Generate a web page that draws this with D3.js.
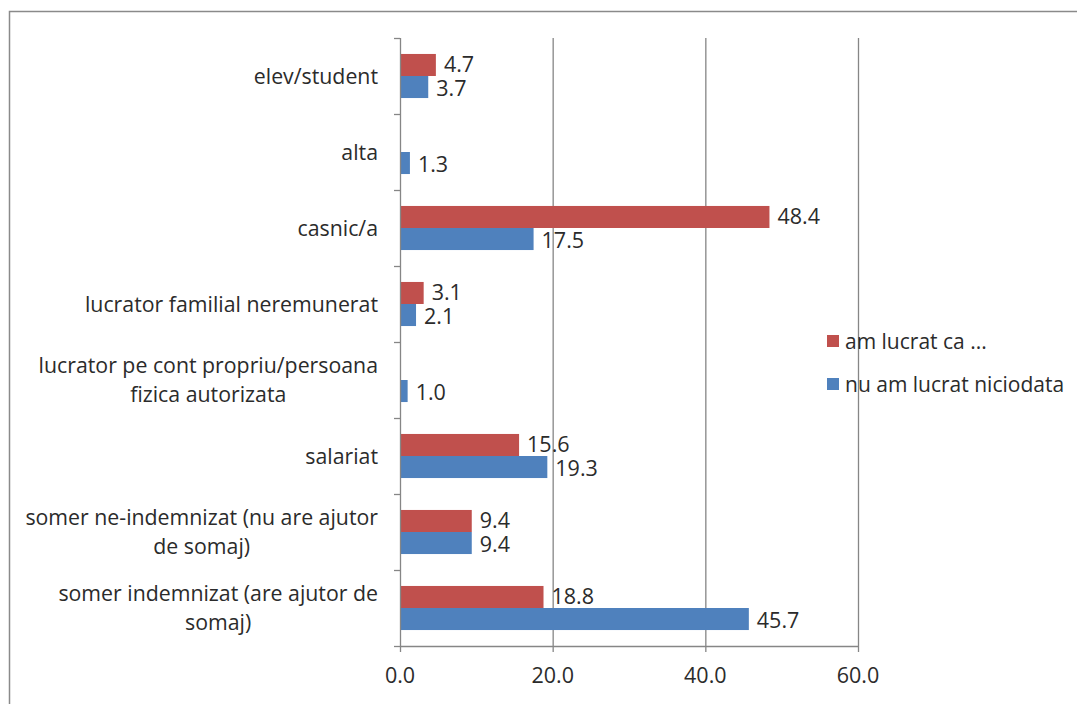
<!DOCTYPE html>
<html><head><meta charset="utf-8">
<script src="https://cdn.jsdelivr.net/npm/d3@7"></script>
<style>
html,body{margin:0;padding:0;background:#fff;}
svg{display:block;}
text{font-family:"Open Sans",sans-serif;fill:#2b2b2b;}
</style></head>
<body>
<svg id="c" width="1077" height="704"></svg>
<script>
const categories = [
  "elev/student",
  "alta",
  "casnic/a",
  "lucrator familial neremunerat",
  "lucrator pe cont propriu/persoana\nfizica autorizata",
  "salariat",
  "somer ne-indemnizat (nu are ajutor\nde somaj)",
  "somer indemnizat (are ajutor de\nsomaj)"
];
const seriesNames = ["am lucrat ca ...", "nu am lucrat niciodata"];
const amLucrat = [4.7, null, 48.4, 3.1, null, 15.6, 9.4, 18.8];
const nuAmLucrat = [3.7, 1.3, 17.5, 2.1, 1.0, 19.3, 9.4, 45.7];
const xTicks = [0, 20, 40, 60];
const colors = ["#C0504D", "#4F81BD"];

(function () {
const svg = d3.select("#c");
const pL = 400, pR = 858, pT = 38, pB = 646;

// outer frame
svg.append("rect").attr("x", 9.5).attr("y", 11.5).attr("width", 1100).attr("height", 800)
  .attr("fill", "none").attr("stroke", "#8a8a8a").attr("stroke-width", 1.5);

const x = d3.scaleLinear().domain([0, 60]).range([pL, pR]);
const y = d3.scaleBand().domain(categories).range([pT, pB]).paddingInner(0.42).paddingOuter(0.21);
const y0 = d3.scaleBand().domain(categories).range([pT, pB]);
const sub = d3.scaleBand().domain([0, 1]).range([0, y.bandwidth()]);

// gridlines
svg.append("g").selectAll("line").data(xTicks.slice(1)).join("line")
  .attr("x1", d => x(d) + 0.5).attr("x2", d => x(d) + 0.5)
  .attr("y1", pT).attr("y2", pB)
  .attr("stroke", "#868686").attr("stroke-width", 1.3);

// bars
const series = [amLucrat, nuAmLucrat];
series.forEach((vals, si) => {
  const g = svg.append("g");
  const data = categories.map((c, i) => ({c, v: vals[i]})).filter(d => d.v != null);
  g.selectAll("rect").data(data).join("rect")
    .attr("x", x(0)).attr("y", d => y(d.c) + sub(si))
    .attr("width", d => x(d.v) - x(0)).attr("height", sub.bandwidth())
    .attr("fill", colors[si]);
  g.selectAll("text").data(data).join("text")
    .attr("x", d => x(d.v) + 8).attr("y", d => y(d.c) + sub(si) + sub.bandwidth() / 2 + (si === 0 ? -1 : 1))
    .attr("dy", "0.36em").attr("font-size", 21.5).text(d => d.v.toFixed(1));
});

// y axis
const yAxisG = svg.append("g");
yAxisG.append("line").attr("x1", pL + 0.5).attr("x2", pL + 0.5).attr("y1", pT).attr("y2", pB)
  .attr("stroke", "#868686").attr("stroke-width", 1.3);
const yTickPos = categories.map(c => y0(c)).concat([pB]);
yAxisG.selectAll("line.t").data(yTickPos).join("line").attr("class", "t")
  .attr("x1", pL - 6).attr("x2", pL).attr("y1", d => d + 0.5).attr("y2", d => d + 0.5)
  .attr("stroke", "#868686").attr("stroke-width", 1.3);

// category labels
categories.forEach(c => {
  const lines = c.split("\n");
  const cy = y0(c) + y0.bandwidth() / 2;
  const lh = 29;
  const t = svg.append("text").attr("font-size", 21.3).attr("text-anchor", "middle");
  lines.forEach((ln, i) => {
    t.append("tspan").attr("y", cy + (i - (lines.length - 1) / 2) * lh).attr("dy", "0.36em").text(ln);
  });
  const tspans = t.selectAll("tspan").nodes();
  const widths = tspans.map(n => n.getComputedTextLength());
  const w = d3.max(widths);
  tspans.forEach(n => d3.select(n).attr("x", 378 - w / 2));
});

// x axis
const xAxisG = svg.append("g");
xAxisG.append("line").attr("x1", pL).attr("x2", pR + 1).attr("y1", pB + 0.5).attr("y2", pB + 0.5)
  .attr("stroke", "#868686").attr("stroke-width", 1.3);
xAxisG.selectAll("line.t").data(xTicks).join("line").attr("class", "t")
  .attr("x1", d => x(d) + 0.5).attr("x2", d => x(d) + 0.5).attr("y1", pB).attr("y2", pB + 6)
  .attr("stroke", "#868686").attr("stroke-width", 1.3);
xAxisG.selectAll("text").data(xTicks).join("text")
  .attr("x", d => x(d)).attr("y", 675).attr("dy", "0.36em").attr("text-anchor", "middle")
  .attr("font-size", 21.5).text(d => d.toFixed(1));

// legend
const lg = svg.append("g");
seriesNames.forEach((s, i) => {
  const ly = 341 + i * 43;
  lg.append("rect").attr("x", 827).attr("y", ly - 6).attr("width", 12).attr("height", 12).attr("fill", colors[i]);
  lg.append("text").attr("x", 845).attr("y", ly).attr("dy", "0.36em").attr("font-size", 21).text(s);
});
})();
</script>
</body></html>
